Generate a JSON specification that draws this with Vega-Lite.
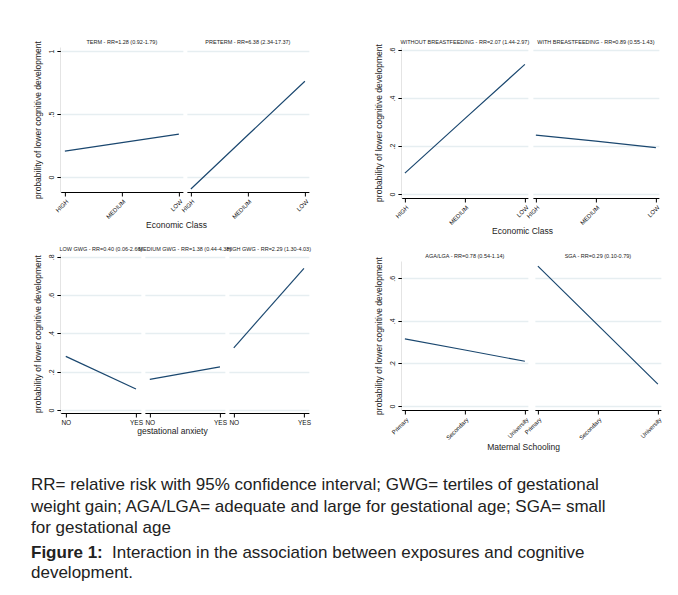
{
  "$schema": "https://vega.github.io/schema/vega-lite/v6.json",
  "background": "white",
  "padding": {"left": 31, "top": 39, "right": 0, "bottom": 0},
  "autosize": {"type": "pad"},
  "datasets": {
    "econ": [
      {"panel": "TERM - RR=1.28 (0.92-1.79)", "cls": "HIGH", "p": 0.206},
      {"panel": "TERM - RR=1.28 (0.92-1.79)", "cls": "MEDIUM", "p": 0.273},
      {"panel": "TERM - RR=1.28 (0.92-1.79)", "cls": "LOW", "p": 0.34},
      {"panel": "PRETERM - RR=6.38 (2.34-17.37)", "cls": "HIGH", "p": -0.095},
      {"panel": "PRETERM - RR=6.38 (2.34-17.37)", "cls": "MEDIUM", "p": 0.333},
      {"panel": "PRETERM - RR=6.38 (2.34-17.37)", "cls": "LOW", "p": 0.76}
    ],
    "bf": [
      {"panel": "WITHOUT BREASTFEEDING - RR=2.07 (1.44-2.97)", "cls": "HIGH", "p": 0.087},
      {"panel": "WITHOUT BREASTFEEDING - RR=2.07 (1.44-2.97)", "cls": "MEDIUM", "p": 0.314},
      {"panel": "WITHOUT BREASTFEEDING - RR=2.07 (1.44-2.97)", "cls": "LOW", "p": 0.54},
      {"panel": "WITH BREASTFEEDING - RR=0.89 (0.55-1.43)", "cls": "HIGH", "p": 0.245},
      {"panel": "WITH BREASTFEEDING - RR=0.89 (0.55-1.43)", "cls": "MEDIUM", "p": 0.22},
      {"panel": "WITH BREASTFEEDING - RR=0.89 (0.55-1.43)", "cls": "LOW", "p": 0.193}
    ],
    "gwg": [
      {"panel": "LOW GWG - RR=0.40 (0.06-2.66)", "anx": "NO", "p": 0.28},
      {"panel": "LOW GWG - RR=0.40 (0.06-2.66)", "anx": "YES", "p": 0.11},
      {"panel": "MEDIUM GWG - RR=1.38 (0.44-4.38)", "anx": "NO", "p": 0.16},
      {"panel": "MEDIUM GWG - RR=1.38 (0.44-4.38)", "anx": "YES", "p": 0.225},
      {"panel": "HIGH GWG - RR=2.29 (1.30-4.03)", "anx": "NO", "p": 0.325},
      {"panel": "HIGH GWG - RR=2.29 (1.30-4.03)", "anx": "YES", "p": 0.74}
    ],
    "school": [
      {"panel": "AGA/LGA - RR=0.78 (0.54-1.14)", "edu": "Primary", "p": 0.315},
      {"panel": "AGA/LGA - RR=0.78 (0.54-1.14)", "edu": "Secondary", "p": 0.263},
      {"panel": "AGA/LGA - RR=0.78 (0.54-1.14)", "edu": "University", "p": 0.21},
      {"panel": "SGA - RR=0.29 (0.10-0.79)", "edu": "Primary", "p": 0.657},
      {"panel": "SGA - RR=0.29 (0.10-0.79)", "edu": "Secondary", "p": 0.38},
      {"panel": "SGA - RR=0.29 (0.10-0.79)", "edu": "University", "p": 0.103}
    ]
  },
  "config": {
    "view": {"stroke": null, "fill": "white"},
    "font": "Liberation Sans",
    "axis": {
      "labelFont": "Liberation Sans", "titleFont": "Liberation Sans",
      "labelColor": "#111", "titleColor": "#222", "titleFontWeight": "normal",
      "domainColor": "#000", "domainWidth": 1, "tickColor": "#000", "tickSize": 4,
      "gridColor": "#e6eef1", "gridWidth": 1.5,
      "labelFontSize": 6.5, "titleFontSize": 8.5, "labelPadding": 2
    },
    "axisX": {"grid": false, "labelAngle": -45, "labelFontSize": 6, "title": null},
    "axisY": {"labelAngle": -90, "labelFontSize": 7, "titlePadding": 5},
    "header": {"labelFont": "Liberation Sans", "labelFontSize": 5.5, "labelColor": "#222", "labelPadding": 2},
    "title": {"font": "Liberation Sans", "fontSize": 8.5, "fontWeight": "normal", "color": "#222", "orient": "bottom", "anchor": "middle", "dx": 5},
    "line": {"color": "#1a476f", "strokeWidth": 1.2}
  },
  "center": true,
  "spacing": 24,
  "vconcat": [
    {
      "hconcat": [
        {
          "vconcat": [
            {
              "title": {"text": "Economic Class", "offset": 2},
              "data": {"name": "econ"},
              "facet": {"column": {"field": "panel", "type": "nominal", "sort": ["TERM - RR=1.28 (0.92-1.79)", "PRETERM - RR=6.38 (2.34-17.37)"], "header": {"title": null}}},
              "spacing": {"column": 4},
              "spec": {
                "width": 122, "height": 145,
                "mark": "line",
                "encoding": {
                  "x": {"field": "cls", "type": "ordinal", "sort": ["HIGH", "MEDIUM", "LOW"], "scale": {"type": "point", "padding": 0.07}},
                  "y": {"field": "p", "type": "quantitative", "scale": {"domain": [-0.119, 1.032], "nice": false, "zero": false}, "axis": {"values": [0, 0.5, 1], "labelExpr": "datum.value == 0 ? '0' : datum.value >= 1 ? '1' : substring(format(datum.value, '.1f'), 1)", "title": "probability of lower cognitive development"}}
                }
              }
            },
            {
              "title": {"text": "gestational anxiety", "offset": 1, "dx": 0},
              "data": {"name": "gwg"},
              "facet": {"column": {"field": "panel", "type": "nominal", "sort": ["LOW GWG - RR=0.40 (0.06-2.66)", "MEDIUM GWG - RR=1.38 (0.44-4.38)", "HIGH GWG - RR=2.29 (1.30-4.03)"], "header": {"title": null}}},
              "spacing": {"column": 4},
              "spec": {
                "width": 80, "height": 159,
                "mark": "line",
                "encoding": {
                  "x": {"field": "anx", "type": "ordinal", "sort": ["NO", "YES"], "scale": {"type": "point", "padding": 0.07}, "axis": {"labelAngle": 0, "labelAlign": "center", "labelFontSize": 6.5}},
                  "y": {"field": "p", "type": "quantitative", "scale": {"domain": [-0.0157, 0.815], "nice": false, "zero": false}, "axis": {"values": [0, 0.2, 0.4, 0.6, 0.8], "labelExpr": "datum.value == 0 ? '0' : datum.value >= 1 ? '1' : substring(format(datum.value, '.1f'), 1)", "title": "probability of lower cognitive development"}}
                }
              }
            }
          ],
          "spacing": 16
        },
        {
          "vconcat": [
            {
              "title": {"text": "Economic Class", "offset": 2},
              "data": {"name": "bf"},
              "facet": {"column": {"field": "panel", "type": "nominal", "sort": ["WITHOUT BREASTFEEDING - RR=2.07 (1.44-2.97)", "WITH BREASTFEEDING - RR=0.89 (0.55-1.43)"], "header": {"title": null}}},
              "spacing": {"column": 5},
              "spec": {
                "width": 126, "height": 151,
                "mark": "line",
                "encoding": {
                  "x": {"field": "cls", "type": "ordinal", "sort": ["HIGH", "MEDIUM", "LOW"], "scale": {"type": "point", "padding": 0.05}},
                  "y": {"field": "p", "type": "quantitative", "scale": {"domain": [-0.0167, 0.6125], "nice": false, "zero": false}, "axis": {"values": [0, 0.2, 0.4, 0.6], "labelExpr": "datum.value == 0 ? '0' : datum.value >= 1 ? '1' : substring(format(datum.value, '.1f'), 1)", "title": "probability of lower cognitive development"}}
                }
              }
            },
            {
              "title": {"text": "Maternal Schooling", "offset": 2},
              "data": {"name": "school"},
              "facet": {"column": {"field": "panel", "type": "nominal", "sort": ["AGA/LGA - RR=0.78 (0.54-1.14)", "SGA - RR=0.29 (0.10-0.79)"], "header": {"title": null}}},
              "spacing": {"column": 7},
              "spec": {
                "width": 126, "height": 149,
                "mark": "line",
                "encoding": {
                  "x": {"field": "edu", "type": "ordinal", "sort": ["Primary", "Secondary", "University"], "scale": {"type": "point", "padding": 0.05}},
                  "y": {"field": "p", "type": "quantitative", "scale": {"domain": [-0.0188, 0.681], "nice": false, "zero": false}, "axis": {"values": [0, 0.2, 0.4, 0.6], "labelExpr": "datum.value == 0 ? '0' : datum.value >= 1 ? '1' : substring(format(datum.value, '.1f'), 1)", "title": "probability of lower cognitive development"}}
                }
              }
            }
          ],
          "spacing": 17
        }
      ],
      "spacing": 63
    },
    {
      "vconcat": [
        {
          "width": 661, "height": 43,
          "view": {"fill": null, "stroke": null},
          "data": {"values": [
            {"line": 1, "text": "RR= relative risk with 95% confidence interval; GWG= tertiles of gestational"},
            {"line": 2, "text": "weight gain; AGA/LGA= adequate and large for gestational age; SGA= small"},
            {"line": 3, "text": "for gestational age"}
          ]},
          "mark": {"type": "text", "align": "left", "baseline": "middle", "fontSize": 17, "font": "Liberation Sans", "color": "#222"},
          "encoding": {
            "y": {"field": "line", "type": "ordinal", "scale": {"type": "point", "padding": 0}, "axis": null},
            "x": {"datum": 0, "type": "quantitative", "scale": {"domain": [0, 1]}, "axis": null},
            "text": {"field": "text", "type": "nominal"}
          }
        },
        {
          "width": 661, "height": 20,
          "view": {"fill": null, "stroke": null},
          "data": {"values": [
            {"line": 1, "lead": "Figure 1:", "text": "Interaction in the association between exposures and cognitive"},
            {"line": 2, "lead": "", "text": "development."}
          ]},
          "encoding": {
            "y": {"field": "line", "type": "ordinal", "scale": {"type": "point", "padding": 0}, "axis": null},
            "x": {"datum": 0, "type": "quantitative", "scale": {"domain": [0, 1]}, "axis": null}
          },
          "layer": [
            {
              "mark": {"type": "text", "align": "left", "baseline": "middle", "fontSize": 17, "fontWeight": "bold", "font": "Liberation Sans", "color": "#222"},
              "encoding": {"text": {"field": "lead", "type": "nominal"}}
            },
            {
              "transform": [{"filter": "datum.line == 1"}],
              "mark": {"type": "text", "align": "left", "baseline": "middle", "fontSize": 17, "dx": 81, "font": "Liberation Sans", "color": "#222"},
              "encoding": {"text": {"field": "text", "type": "nominal"}}
            },
            {
              "transform": [{"filter": "datum.line == 2"}],
              "mark": {"type": "text", "align": "left", "baseline": "middle", "fontSize": 17, "font": "Liberation Sans", "color": "#222"},
              "encoding": {"text": {"field": "text", "type": "nominal"}}
            }
          ]
        }
      ],
      "spacing": 8
    }
  ]
}
